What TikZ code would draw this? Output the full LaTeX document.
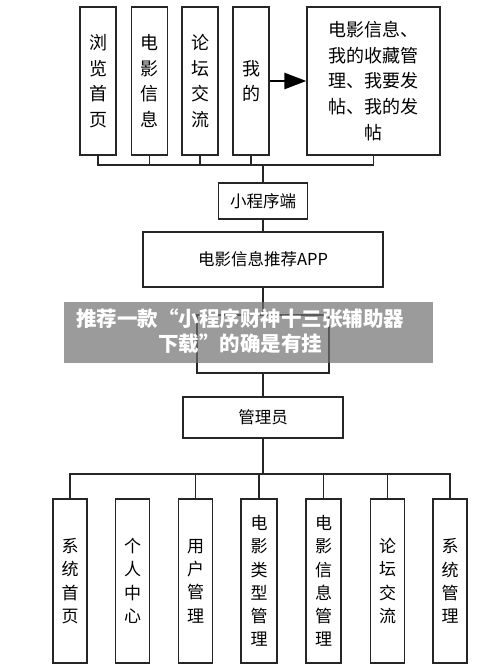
\documentclass[tikz,border=0pt]{standalone}
\usepackage{fontspec}
\newfontfamily\cjk{Noto Sans CJK SC}
\usetikzlibrary{arrows.meta,positioning}

\begin{document}
\begin{tikzpicture}[
  x=1pt, y=-1pt,
  vbox/.style={rectangle, draw=black!85, line width=1.3pt, fill=white, align=center,
               inner sep=0pt, minimum width=36pt, minimum height=148pt,
               font=\cjk\fontsize{18}{25.6}\selectfont},
  bbox/.style={vbox, minimum width=34pt, minimum height=164pt,
               font=\cjk\fontsize{17}{23.3}\selectfont},
  hbox/.style={rectangle, draw=black!85, line width=1.3pt, fill=white, align=center,
               inner sep=0pt, font=\cjk\fontsize{16.5}{20}\selectfont},
  link/.style={draw=black!85, line width=1.1pt},
  arrow/.style={-{Triangle[length=22pt, width=16pt]}, line width=2.6pt},
  band/.style={fill={rgb,255:red,113;green,113;blue,113}, fill opacity=0.7},
  bandtext/.style={text=white, align=center, inner sep=0pt,
                   font=\cjk\bfseries\fontsize{20.5}{25}\selectfont}
]
\useasboundingbox (0,0) rectangle (500,666);

% top row
\node[vbox] (tA) at (98,81) {浏\\览\\首\\页};
\node[vbox] (tB) at (149.5,81) {电\\影\\信\\息};
\node[vbox] (tC) at (200,81) {论\\坛\\交\\流};
\node[vbox] (tD) at (251,81) {我\\的};
\node[vbox, minimum width=133pt] (tE) at (373.5,81)
  {电影信息、\\我的收藏管\\理、我要发\\帖、我的发\\帖};
\draw[arrow] (tD) -- (tE);

% middle chain
\coordinate (busT) at (263,165);
\node[hbox, minimum width=89pt, minimum height=36pt] (prog) at (263,201) {小程序端};
\node[hbox, minimum width=240pt, minimum height=55pt] (app) at (263,259.5) {电影信息推荐APP};
\node[hbox, minimum width=132pt, minimum height=58pt] (srv) at (263,344) {};
\node[hbox, minimum width=160pt, minimum height=41pt] (admin) at (263,417.5) {管理员};

\draw[link] (tA.south) |- (busT) -| (tE.south);
\foreach \n in {tB,tC,tD}
  \draw[link] (\n.south) -- (\n.south |- busT);
\foreach \a/\b in {busT/prog,prog/app,app/srv,srv/admin}
  \draw[link] (\a) -- (\b);

% bottom row
\coordinate (busB) at (263,474);
\node[bbox] (bA) at (70,581) {系\\统\\首\\页};
\node[bbox] (bB) at (132.5,581) {个\\人\\中\\心};
\node[bbox] (bC) at (195.5,581) {用\\户\\管\\理};
\node[bbox, minimum width=36pt] (bD) at (259,581) {电\\影\\类\\型\\管\\理};
\node[bbox, minimum width=35pt] (bE) at (323.5,581) {电\\影\\信\\息\\管\\理};
\node[bbox] (bF) at (387.5,581) {论\\坛\\交\\流};
\node[bbox] (bG) at (450,581) {系\\统\\管\\理};

\draw[link] (admin) -- (busB);
\draw[link] (bA.north) |- (busB) -| (bG.north);
\foreach \n in {bC,bD,bE,bF}
  \draw[link] (\n.north) -- (\n.north |- busB);

% overlay band
\fill[band] (64,302) rectangle (433,363);
\node[bandtext] (wm) at (240,331) {推荐一款“小程序财神十三张辅助器\\下载”的确是有挂};
\end{tikzpicture}
\end{document}
